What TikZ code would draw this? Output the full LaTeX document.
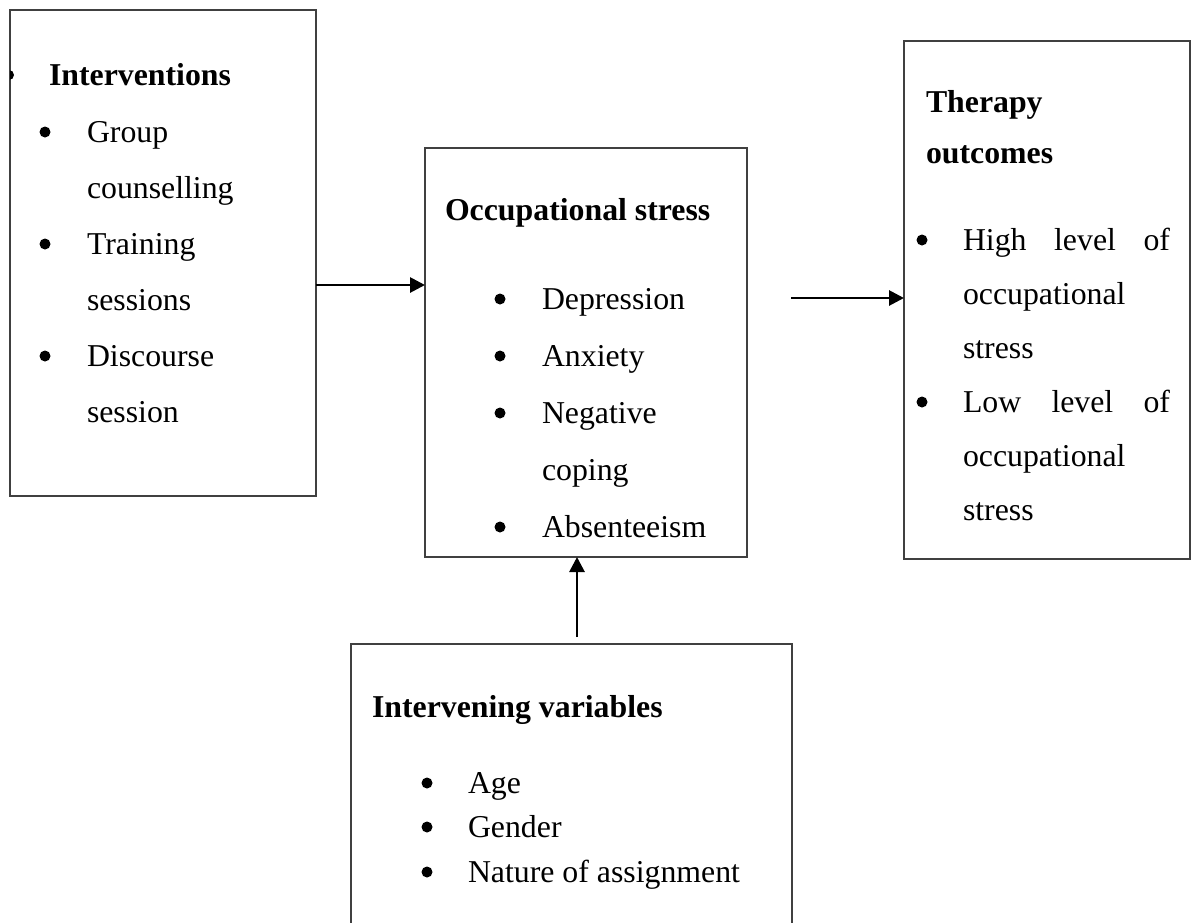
\documentclass[tikz,border=0pt]{standalone}
\usepackage{fontspec}
\setmainfont{Liberation Serif}
\usetikzlibrary{arrows.meta}
\begin{document}
\begin{tikzpicture}[x=0.5pt,y=-0.5pt,
  box/.style={draw=black!75,line width=0.6pt,rectangle,inner sep=0pt,outer sep=0pt},
  txt/.style={anchor=base west,inner sep=0pt,outer sep=0pt,font=\fontsize{15.9pt}{18pt}\selectfont},
  head/.style={txt,font=\fontsize{15.9pt}{18pt}\selectfont\bfseries},
  arr/.style={line width=1.4pt,-{Triangle[length=7.5pt,width=7.5pt]}},
  bul/.style={fill=black}]
\path[use as bounding box,clip] (0,0) rectangle (1192,922);
\fill[white] (0,0) rectangle (1192,922);
% boxes
\node[box,minimum width=153pt,minimum height=243pt] (b1) at (163,253) {};
\node[box,minimum width=161pt,minimum height=204.5pt] (b2) at (586,352.5) {};
\node[box,minimum width=143pt,minimum height=259pt] (b3) at (1047,300) {};
\node[box,minimum width=220.5pt,minimum height=148pt] (b4) at (571.5,792) {};
% box 1
\begin{scope}
\clip (10,60) rectangle (30,90);
\fill (9,75) circle[radius=2.5pt];
\end{scope}
\node[head] (h1) at (49,85) {Interventions};
\foreach \y in {142,254,366} {\fill (45,\y-10) circle[radius=2.75pt];}
\node[txt] (t11) at (87,142) {Group};
\node[txt] (t12) at (87,198) {counselling};
\node[txt] (t13) at (87,254) {Training};
\node[txt] (t14) at (87,310) {sessions};
\node[txt] (t15) at (87,366) {Discourse};
\node[txt] (t16) at (87,422) {session};
% box 2
\node[head] (h2) at (445,220) {Occupational stress};
\foreach \y in {309,366,423,537} {\fill (500,\y-10) circle[radius=2.75pt];}
\node[txt] (t21) at (542,309) {Depression};
\node[txt] (t22) at (542,366) {Anxiety};
\node[txt] (t23) at (542,423) {Negative};
\node[txt] (t24) at (542,480) {coping};
\node[txt] (t25) at (542,537) {Absenteeism};
% box 3
\node[head] (h3a) at (926,112) {Therapy};
\node[head] (h3b) at (926,163) {outcomes};
\foreach \y in {250,412} {\fill (922,\y-10) circle[radius=2.75pt];}
\node[txt] (t31) at (963,250) {\makebox[103.5pt][s]{High level of}};
\node[txt] (t32) at (963,304) {occupational};
\node[txt] (t33) at (963,358) {stress};
\node[txt] (t34) at (963,412) {\makebox[103.5pt][s]{Low level of}};
\node[txt] (t35) at (963,466) {occupational};
\node[txt] (t36) at (963,520) {stress};
% box 4
\node[head] (h4) at (372,717) {Intervening variables};
\foreach \y in {793,837,882} {\fill (427,\y-10) circle[radius=2.75pt];}
\node[txt] (t41) at (468,793) {Age};
\node[txt] (t42) at (468,837) {Gender};
\node[txt] (t43) at (468,882) {Nature of assignment};
% arrows
\draw[arr] (b1.east |- 0,285) -- (b2.west |- 0,285);
\coordinate (a2s) at (791,298);
\draw[arr] (a2s) -- (b3.west |- a2s);
\coordinate (a3s) at (577,637);
\draw[arr] (a3s) -- (b2.south -| a3s);
\end{tikzpicture}
\end{document}
